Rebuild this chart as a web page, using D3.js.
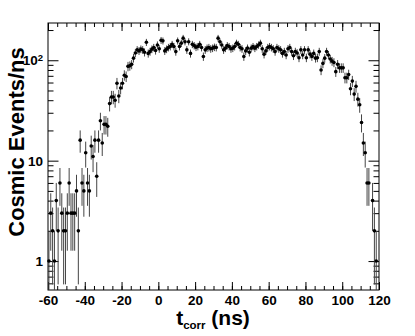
<!DOCTYPE html>
<html>
<head>
<meta charset="utf-8">
<script src="https://cdn.jsdelivr.net/npm/d3@7"></script>
<style>
  body { margin: 0; background: #fff; }
  text { font-family: "Liberation Sans", Arial, Helvetica, sans-serif; font-weight: bold; fill: #000; }
</style>
</head>
<body>
<svg id="chart" width="415" height="336"></svg>
<script>
// Histogram: 1 ns bins from -60 to 120 ns, counts per bin (= events/ns)
var xMin = -60, xMax = 120, binWidth = 1;
var counts = [
  1, 3, 2, 1, 4, 2, 6, 3, 2, 2,
  3, 6, 3, 3, 3, 5, 2, 16, 6, 5,
  12, 6, 5, 14, 11, 16, 7, 16, 25, 15,
  23, 23, 22, 37, 43, 43, 40, 59, 44, 53,
  59, 71, 69, 87, 88, 91, 105, 118, 127, 124,
  129, 127, 120, 151, 117, 122, 129, 134, 125, 142,
  130, 158, 156, 124, 129, 134, 137, 144, 137, 122,
  156, 137, 148, 166, 153, 127, 153, 117, 144, 140,
  135, 137, 144, 134, 109, 127, 132, 134, 130, 132,
  135, 134, 166, 153, 142, 127, 132, 140, 137, 130,
  132, 137, 148, 144, 134, 130, 109, 124, 132, 120,
  132, 137, 132, 137, 142, 148, 130, 115, 124, 134,
  137, 134, 130, 122, 134, 130, 127, 117, 122, 113,
  130, 134, 122, 111, 122, 118, 106, 127, 113, 127,
  106, 127, 115, 109, 117, 105, 106, 122, 80, 93,
  105, 122, 113, 103, 98, 95, 77, 91, 84, 84,
  84, 67, 67, 72, 52, 62, 46, 55, 41, 36,
  24, 15, 12, 6, 6, 0, 4, 2, 1, 0
];
var xMajorTicks = [-60, -40, -20, 0, 20, 40, 60, 80, 100, 120];
var yMajorTicks = [1, 10, 100];
var yTickLabels = [["1", ""], ["10", ""], ["10", "2"]];
var yMinorTicks = [0.6, 0.7, 0.8, 0.9, 2, 3, 4, 5, 6, 7, 8, 9,
                   20, 30, 40, 50, 60, 70, 80, 90, 200];

var padL = 48, padR = 379, padT = 23, padB = 290;
var svg = d3.select("#chart");

var x = d3.scaleLinear().domain([xMin, xMax]).range([padL, padR]);
var y = d3.scaleLog().domain([0.515, 235]).range([padB, padT]).clamp(true);

var xMinor = d3.range(xMin, xMax + 0.1, 5);

// bottom axis (ticks point inward)
svg.append("g").attr("transform", "translate(0," + padB + ")")
  .call(d3.axisBottom(x).tickValues(xMinor).tickSize(-4).tickSizeOuter(0).tickFormat(""));
svg.append("g").attr("transform", "translate(0," + padB + ")")
  .call(d3.axisBottom(x).tickValues(xMajorTicks).tickSize(-8).tickSizeOuter(0).tickPadding(5)
    .tickFormat(function(d) { return String(d); }))
  .selectAll("text").style("font-size", "13.5px");

// top axis
svg.append("g").attr("transform", "translate(0," + padT + ")")
  .call(d3.axisTop(x).tickValues(xMinor).tickSize(-4).tickSizeOuter(0).tickFormat(""));
svg.append("g").attr("transform", "translate(0," + padT + ")")
  .call(d3.axisTop(x).tickValues(xMajorTicks).tickSize(-8).tickSizeOuter(0).tickFormat(""));

// left axis
svg.append("g").attr("transform", "translate(" + padL + ",0)")
  .call(d3.axisLeft(y).tickValues(yMinorTicks).tickSize(-5.5).tickSizeOuter(0).tickFormat(""));
svg.append("g").attr("transform", "translate(" + padL + ",0)")
  .call(d3.axisLeft(y).tickValues(yMajorTicks).tickSize(-10.5).tickSizeOuter(0).tickFormat(""));

// right axis
svg.append("g").attr("transform", "translate(" + padR + ",0)")
  .call(d3.axisRight(y).tickValues(yMinorTicks).tickSize(-5.5).tickSizeOuter(0).tickFormat(""));
svg.append("g").attr("transform", "translate(" + padR + ",0)")
  .call(d3.axisRight(y).tickValues(yMajorTicks).tickSize(-10.5).tickSizeOuter(0).tickFormat(""));

svg.selectAll(".domain").remove();
svg.selectAll(".tick line").attr("stroke", "#000");

// y tick labels with superscript exponent
yMajorTicks.forEach(function(v, i) {
  var t = svg.append("text")
    .attr("x", padL - 5)
    .attr("y", y(v))
    .attr("dy", "0.36em")
    .attr("text-anchor", "end")
    .style("font-size", "13.5px");
  t.append("tspan").text(yTickLabels[i][0]);
  if (yTickLabels[i][1]) {
    t.append("tspan").attr("dy", "-0.45em").style("font-size", "9.5px").text(yTickLabels[i][1]);
  }
});

// frame
svg.append("rect")
  .attr("x", padL).attr("y", padT)
  .attr("width", padR - padL).attr("height", padB - padT)
  .attr("fill", "none").attr("stroke", "#000").attr("stroke-width", 1);

// data points with sqrt(N) error bars
var pts = counts.map(function(c, i) {
  return { x: xMin + (i + 0.5) * binWidth, n: c };
}).filter(function(d) { return d.n > 0; });

var g = svg.append("g");
g.selectAll("line.err").data(pts).enter().append("line")
  .attr("class", "err")
  .attr("x1", function(d) { return x(d.x); })
  .attr("x2", function(d) { return x(d.x); })
  .attr("y1", function(d) { var lo = d.n - Math.sqrt(d.n); return lo > 0 ? y(lo) : padB; })
  .attr("y2", function(d) { return y(d.n + Math.sqrt(d.n)); })
  .attr("stroke", "#444")
  .attr("stroke-width", 1);

g.selectAll("circle").data(pts).enter().append("circle")
  .attr("cx", function(d) { return x(d.x); })
  .attr("cy", function(d) { return y(d.n); })
  .attr("r", 1.8)
  .attr("fill", "#000");

// axis titles
var xt = svg.append("text")
  .attr("x", 213).attr("y", 324.5)
  .attr("text-anchor", "middle")
  .style("font-size", "21px");
xt.append("tspan").text("t");
xt.append("tspan").attr("dy", 4).style("font-size", "11.5px").text("corr");
xt.append("tspan").attr("dy", -4).text(" (ns)");

svg.append("text")
  .attr("transform", "translate(24,142) rotate(-90)")
  .attr("text-anchor", "middle")
  .style("font-size", "22px")
  .text("Cosmic Events/ns");
</script>
</body>
</html>
